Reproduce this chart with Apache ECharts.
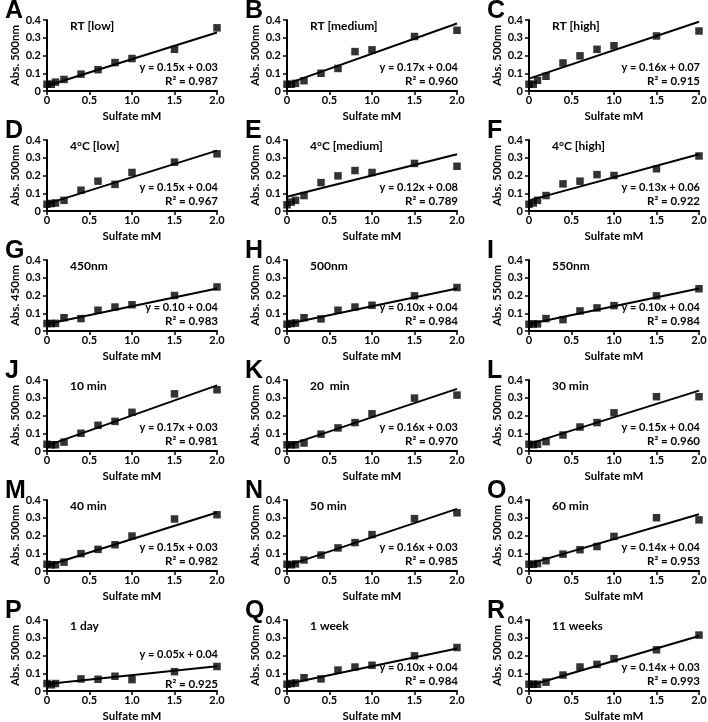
<!DOCTYPE html>
<html>
<head>
<meta charset="utf-8">
<script src="https://cdn.jsdelivr.net/npm/echarts@6/dist/echarts.min.js"></script>
<style>
html,body{margin:0;padding:0;background:#fff;overflow:hidden;}
#chart{width:708px;height:722px;}
</style>
</head>
<body>
<div id="chart"></div>
<script>
// ---------- data ----------
const xValues = [0, 0.05, 0.1, 0.2, 0.4, 0.6, 0.8, 1.0, 1.5, 2.0];
const xTicks = [0, 0.5, 1.0, 1.5, 2.0];
const xTickLabels = ['0', '0.5', '1.0', '1.5', '2.0'];
const yTicks = [0, 0.1, 0.2, 0.3, 0.4];
const yTickLabels = ['0', '0.1', '0.2', '0.3', '0.4'];

const panelLetters = ['A','B','C','D','E','F','G','H','I','J','K','L','M','N','O','P','Q','R'];
const panelTitles = ['RT [low]','RT [medium]','RT [high]','4°C [low]','4°C [medium]','4°C [high]',
  '450nm','500nm','550nm','10 min','20  min','30 min','40 min','50 min','60 min','1 day','1 week','11 weeks'];
const yAxisTitles = ['Abs. 500nm','Abs. 500nm','Abs. 500nm','Abs. 500nm','Abs. 500nm','Abs. 500nm',
  'Abs. 450nm','Abs. 500nm','Abs. 550nm','Abs. 500nm','Abs. 500nm','Abs. 500nm',
  'Abs. 500nm','Abs. 500nm','Abs. 500nm','Abs. 500nm','Abs. 500nm','Abs. 500nm'];
const xAxisTitle = 'Sulfate mM';

const absA = [0.038, 0.038, 0.050, 0.065, 0.095, 0.120, 0.160, 0.183, 0.235, 0.356];
const absB = [0.038, 0.038, 0.043, 0.058, 0.100, 0.127, 0.222, 0.232, 0.307, 0.342];
const absC = [0.038, 0.038, 0.060, 0.083, 0.158, 0.198, 0.235, 0.255, 0.310, 0.338];
const absD = [0.038, 0.042, 0.045, 0.060, 0.117, 0.168, 0.150, 0.217, 0.275, 0.322];
const absE = [0.035, 0.050, 0.060, 0.087, 0.160, 0.198, 0.228, 0.217, 0.268, 0.252];
const absF = [0.038, 0.045, 0.060, 0.087, 0.153, 0.168, 0.205, 0.200, 0.238, 0.310];
const absG = [0.042, 0.042, 0.043, 0.075, 0.070, 0.117, 0.135, 0.148, 0.200, 0.248];
const absH = [0.038, 0.042, 0.045, 0.075, 0.068, 0.117, 0.135, 0.145, 0.198, 0.245];
const absI = [0.038, 0.040, 0.040, 0.070, 0.064, 0.113, 0.130, 0.143, 0.198, 0.238];
const absJ = [0.038, 0.035, 0.035, 0.050, 0.100, 0.145, 0.167, 0.218, 0.322, 0.345];
const absK = [0.035, 0.035, 0.035, 0.045, 0.095, 0.130, 0.160, 0.210, 0.298, 0.315];
const absL = [0.038, 0.035, 0.038, 0.053, 0.090, 0.135, 0.160, 0.215, 0.306, 0.306];
const absM = [0.038, 0.035, 0.035, 0.050, 0.098, 0.122, 0.148, 0.197, 0.293, 0.317];
const absN = [0.038, 0.035, 0.040, 0.062, 0.090, 0.130, 0.160, 0.205, 0.295, 0.328];
const absO = [0.038, 0.038, 0.042, 0.058, 0.095, 0.120, 0.138, 0.195, 0.300, 0.288];
const absP = [0.042, 0.035, 0.042, null, 0.068, 0.066, 0.083, 0.064, 0.109, 0.138];
const absQ = [0.038, 0.042, 0.045, 0.075, 0.068, 0.118, 0.135, 0.145, 0.198, 0.245];
const absR = [0.038, 0.038, 0.038, 0.050, 0.090, 0.135, 0.150, 0.182, 0.232, 0.315];
const panelValues = [absA, absB, absC, absD, absE, absF, absG, absH, absI, absJ, absK, absL, absM, absN, absO, absP, absQ, absR];

const slopes     = [0.15, 0.17, 0.16, 0.15, 0.12, 0.13, 0.10, 0.10, 0.10, 0.17, 0.16, 0.15, 0.15, 0.16, 0.14, 0.05, 0.10, 0.14];
const intercepts = [0.03, 0.04, 0.07, 0.04, 0.08, 0.06, 0.04, 0.04, 0.04, 0.03, 0.03, 0.04, 0.03, 0.03, 0.04, 0.04, 0.04, 0.03];
const equationLabels = ['y = 0.15x + 0.03','y = 0.17x + 0.04','y = 0.16x + 0.07','y = 0.15x + 0.04','y = 0.12x + 0.08','y = 0.13x + 0.06',
  'y = 0.10 + 0.04','y = 0.10x + 0.04','y = 0.10x + 0.04','y = 0.17x + 0.03','y = 0.16x + 0.03','y = 0.15x + 0.04',
  'y = 0.15x + 0.03','y = 0.16x + 0.03','y = 0.14x + 0.04','y = 0.05x + 0.04','y = 0.10x + 0.04','y = 0.14x + 0.03'];
const r2Labels = ['0.987','0.960','0.915','0.967','0.789','0.922','0.983','0.984','0.984','0.981','0.970','0.960','0.982','0.985','0.953','0.925','0.984','0.993'];

// ---------- layout ----------
const colLeft = [47, 287, 529];
const plotW = 170;
const rowPitch = 120;
const plotTop = 20;
const plotH = 71;
const FONT = 'Lato, "Open Sans", sans-serif';

const grid = [], xAxis = [], yAxis = [], series = [], graphic = [];
for (let i = 0; i < 18; i++) {
  const r = Math.floor(i / 3), c = i % 3;
  const left = colLeft[c], top = plotTop + r * rowPitch;
  grid.push({left: left, top: top, width: plotW, height: plotH, containLabel: false, outerBoundsMode: 'none'});
  xAxis.push({
    type: 'value', gridIndex: i, min: 0, max: 2, interval: 0.5,
    name: xAxisTitle, nameLocation: 'middle', nameGap: 19,
    nameTextStyle: {fontFamily: FONT, fontWeight: 'bold', fontSize: 11.5, color: '#000'},
    axisLine: {show: true, onZero: false, lineStyle: {color: '#000', width: 2}},
    axisTick: {show: true, inside: false, length: 4, lineStyle: {color: '#000', width: 1.5}},
    axisLabel: {fontFamily: FONT, fontWeight: 'bold', fontSize: 11, color: '#000', margin: 4,
      formatter: v => { const k = xTicks.findIndex(t => Math.abs(t - v) < 1e-9); return k >= 0 ? xTickLabels[k] : ''; }},
    splitLine: {show: false}
  });
  yAxis.push({
    type: 'value', gridIndex: i, min: 0, max: 0.4, interval: 0.1,
    name: yAxisTitles[i], nameLocation: 'middle', nameGap: 24, nameRotate: 90,
    nameTextStyle: {fontFamily: FONT, fontWeight: 'bold', fontSize: 11.5, color: '#000'},
    axisLine: {show: true, onZero: false, lineStyle: {color: '#000', width: 2}},
    axisTick: {show: true, inside: false, length: 4, lineStyle: {color: '#000', width: 1.5}},
    axisLabel: {fontFamily: FONT, fontWeight: 'bold', fontSize: 11, color: '#000', margin: 6,
      formatter: v => { const k = yTicks.findIndex(t => Math.abs(t - v) < 1e-9); return k >= 0 ? yTickLabels[k] : ''; }},
    splitLine: {show: false}
  });
  series.push({
    type: 'line', xAxisIndex: i, yAxisIndex: i, silent: true, showSymbol: false, z: 2,
    lineStyle: {color: '#000', width: 2},
    data: [[0, intercepts[i]], [2, slopes[i] * 2 + intercepts[i]]]
  });
  series.push({
    type: 'scatter', xAxisIndex: i, yAxisIndex: i, symbol: 'rect', symbolSize: 7.5, z: 3,
    itemStyle: {color: '#000'},
    data: xValues.map((x, k) => panelValues[i][k] == null ? null : [x, panelValues[i][k]]).filter(d => d)
  });
  graphic.push({type: 'text', left: left - 42, top: top - 21,
    style: {text: panelLetters[i], font: 'bold 25px "Liberation Sans", Arial, sans-serif', fill: '#000'}});
  graphic.push({type: 'text', left: left + 23, top: top + 0,
    style: {text: panelTitles[i], font: 'bold 12px ' + FONT, fill: '#000'}});
  const eqY = (i === 15) ? top + 34 : top + 47;
  const r2Y = (i === 15) ? top + 64 : top + 61;
  graphic.push({type: 'text', x: left + plotW + 1, y: eqY,
    style: {text: equationLabels[i], font: 'bold 11px ' + FONT, fill: '#000', align: 'right', verticalAlign: 'middle'}});
  graphic.push({type: 'text', x: left + plotW + 1, y: r2Y,
    style: {text: 'R² = ' + r2Labels[i], font: 'bold 11.5px ' + FONT, fill: '#000', align: 'right', verticalAlign: 'middle'}});
}

const chart = echarts.init(document.getElementById('chart'), null, {renderer: 'canvas'});
chart.setOption({
  animation: false,
  backgroundColor: '#fff',
  grid: grid, xAxis: xAxis, yAxis: yAxis, series: series, graphic: graphic
});
</script>
</body>
</html>
